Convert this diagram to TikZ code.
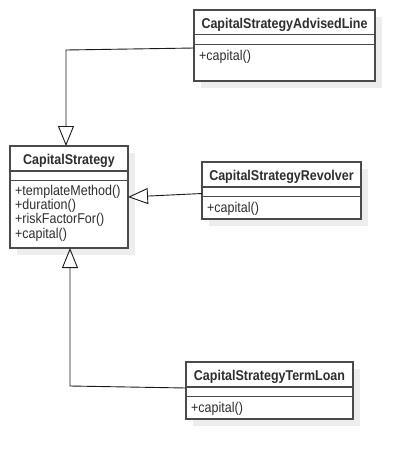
\documentclass[tikz,border=0pt]{standalone}
\usepackage{fontspec}
\setmainfont[FakeStretch=0.88]{Liberation Sans}
\usetikzlibrary{arrows.meta}
\definecolor{shadowc}{HTML}{EDEDED}
\definecolor{boxc}{HTML}{4A4A4A}
\definecolor{txtc}{HTML}{2E2E2E}
\definecolor{linec}{HTML}{1A1A1A}
\tikzset{
  cls/.style={draw=boxc, line width=1.4pt, fill=white, anchor=north west, inner sep=0pt, outer sep=0pt},
  sepl/.style={draw=boxc, line width=1.4pt},
  ttl/.style={anchor=base, inner sep=0pt, text=txtc, font=\fontsize{14.2}{16}\selectfont\bfseries},
  mth/.style={anchor=base west, inner sep=0pt, text=txtc, font=\fontsize{14.2}{16}\selectfont},
  gen/.style={draw=linec, line width=0.9pt, -{Triangle[open, length=20pt, width=16pt, line width=0.9pt]}}
}
\newcommand\umlcls[8]{%
  \fill[shadowc] (#2+7,#3+7) rectangle ++(#4,#5);
  \node[cls, minimum width=#4pt, minimum height=#5pt] (#1) at (#2,#3) {};
  \draw[sepl] (#2,#3+#7) -- ++(#4,0);
  \draw[sepl] (#2,#3+#8) -- ++(#4,0);
  \node[ttl] (#1-t) at (#2+#4/2,#3+18) {#6};
}
\begin{document}
\begin{tikzpicture}[x=1pt,y=-1pt]
\useasboundingbox (0,0) rectangle (415,459);
\fill[white] (0,0) rectangle (415,459);
% classes
\umlcls{adv}{194}{10}{181}{71}{CapitalStrategyAdvisedLine}{24.5}{34.5}
\node[mth] (adv-m1) at (199,60) {+capital()};
\umlcls{cs}{10}{146}{118}{102}{CapitalStrategy}{25}{34.5}
\node[mth] (cs-m1) at (15,195.5) {+templateMethod()};
\node[mth] (cs-m2) at (15,209.7) {+duration()};
\node[mth] (cs-m3) at (15,223.9) {+riskFactorFor()};
\node[mth] (cs-m4) at (15,238.1) {+capital()};
\umlcls{rev}{202}{162}{159}{57}{CapitalStrategyRevolver}{25}{34.5}
\node[mth] (rev-m1) at (207,212) {+capital()};
\umlcls{term}{186}{362}{167}{57}{CapitalStrategyTermLoan}{25}{34.5}
\node[mth] (term-m1) at (191,412) {+capital()};
% bend points
\coordinate (advs) at ([yshift=-2.5pt]adv.west);
\coordinate (csn) at ([xshift=-3pt]cs.north);
\coordinate (b1) at ([yshift=-4.5pt]adv.west -| csn);
\coordinate (terms) at ([yshift=2.5pt]term.west);
\coordinate (css) at ([xshift=1pt]cs.south);
\coordinate (b2) at ([yshift=4.5pt]term.west -| css);
% generalizations
\draw[gen] (advs) -- (b1) -- (csn);
\draw[gen] ([yshift=-3pt]rev.west) -- (cs.east);
\draw[gen] (terms) -- (b2) -- (css);
\end{tikzpicture}
\end{document}
